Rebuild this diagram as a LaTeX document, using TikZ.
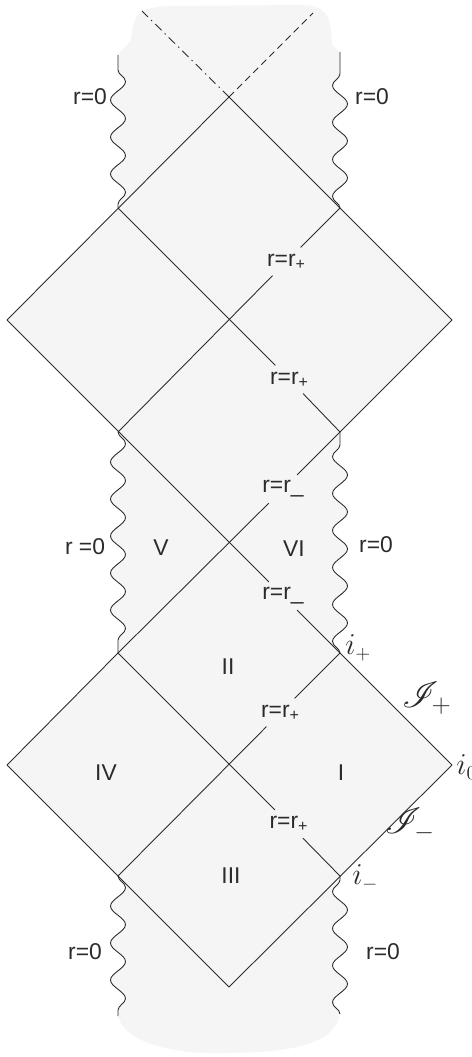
\documentclass[tikz,border=0pt]{standalone}
\usepackage{fontspec}
\setmainfont{Liberation Sans}
\usepackage{mathrsfs}
\usetikzlibrary{decorations.pathmorphing}
\definecolor{bgray}{HTML}{F5F5F5}
\definecolor{ink}{HTML}{2B2B2B}

\begin{document}
\begin{tikzpicture}[x=0.02cm,y=-0.02cm,
  ray/.style={ink,line width=0.5pt},
  wave/.style={decoration={snake,amplitude=0.15cm,segment length=0.74cm}},
  wavedown/.style={decoration={snake,amplitude=0.15cm,segment length=0.74cm,pre=lineto,pre length=0.3cm}},
  waveup/.style={decoration={snake,amplitude=0.15cm,segment length=0.74cm,post=lineto,post length=0.3cm}},
  txt/.style={text=ink,font=\fontsize{13}{15}\selectfont},
  hzn/.style={txt,inner sep=0pt,minimum width=0.8cm,minimum height=0.55cm},
  mth/.style={text=ink,inner sep=0pt,font=\fontsize{16}{19}\selectfont},
  scr/.style={text=ink,inner sep=0pt,font=\fontsize{21}{24}\selectfont}]
  \useasboundingbox (0,0) rectangle (471,1057);
  % vertices of the diamonds
  \coordinate (A) at (229,97);
  \coordinate (L1) at (118,208);  \coordinate (R1) at (340,208);
  \coordinate (LL1) at (7,320);   \coordinate (C1) at (229,320);  \coordinate (RR1) at (452,320);
  \coordinate (L2) at (118,432);  \coordinate (R2) at (340,432);
  \coordinate (C2) at (229,543);
  \coordinate (L3) at (118,653);  \coordinate (R3) at (340,653);
  \coordinate (LL2) at (7,765);   \coordinate (C3) at (229,765);  \coordinate (RR2) at (452,765);
  \coordinate (L4) at (118,876);  \coordinate (R4) at (340,876);
  \coordinate (B) at (229,987);
  % free ends of the singularities and of the dashed lines
  \coordinate (lw0) at (118,55);  \coordinate (rw0) at (340,52);
  \coordinate (lwb) at (118,1016); \coordinate (rwb) at (340,1014);
  \coordinate (tl) at (142,11);   \coordinate (tr) at (313,13);

  % shaded spacetime
  \fill[bgray] (lw0) decorate[wavedown]{-- (L1)} -- (LL1) -- (L2)
    decorate[wave]{-- (L3)} -- (LL2) -- (L4) decorate[wave]{-- (lwb)}
    .. controls (125,1045) and (180,1055) .. (230,1053)
    .. controls (290,1052) and (335,1045) .. (rwb)
    decorate[wave]{-- (R4)} -- (RR2) -- (R3) decorate[wave]{-- (R2)}
    -- (RR1) -- (R1) decorate[waveup]{-- (rw0)}
    -- (332,45) .. controls (331,12) and (325,6) .. (300,5) -- (170,6)
    .. controls (140,8) and (134,10) .. (131,40) -- cycle;

  % singularities r=0
  \draw[ray,decorate,wavedown] (lw0) -- (L1);
  \draw[ray,decorate,wave] (L2) -- (L3);
  \draw[ray,decorate,wave] (L4) -- (lwb);
  \draw[ray,decorate,wave] (rwb) -- (R4);
  \draw[ray,decorate,wave] (R3) -- (R2);
  \draw[ray,decorate,waveup] (R1) -- (rw0);
  \node[txt] (z1) at (90,97) {r=0};
  \node[txt] (z2) at (372,97) {r=0};
  \node[txt] (z3) at (85,547) {r =0};
  \node[txt] (z4) at (376,545) {r=0};
  \node[txt] (z5) at (85,952) {r=0};
  \node[txt] (z6) at (383,952) {r=0};

  % horizons
  \node[hzn] (hA) at (286.5,261.5) {r=r\textsubscript{+}};
  \node[hzn] (hB) at (289.5,379.5) {r=r\textsubscript{+}};
  \node[hzn] (hC) at (283,489) {r=r\_};
  \node[hzn] (hD) at (283,596) {r=r\_};
  \node[hzn] (hE) at (280.5,712.5) {r=r\textsubscript{+}};
  \node[hzn] (hF) at (289,824) {r=r\textsubscript{+}};

  % null lines
  \draw[ray] (A) -- (LL1);
  \draw[ray] (A) -- (RR1);
  \draw[ray] (R1) -- (hA);  \draw[ray] (hA) -- (L2);
  \draw[ray] (L1) -- (hB);  \draw[ray] (hB) -- (R2);
  \draw[ray] (RR1) -- (hC); \draw[ray] (hC) -- (L3);
  \draw[ray] (LL1) -- (hD); \draw[ray] (hD) -- (R3);
  \draw[ray] (R3) -- (hE);  \draw[ray] (hE) -- (L4);
  \draw[ray] (L3) -- (hF);  \draw[ray] (hF) -- (R4);
  \draw[ray] (L3) -- (LL2);
  \draw[ray] (R3) -- (RR2);
  \draw[ray] (LL2) -- (B);
  \draw[ray] (RR2) -- (B);
  \draw[ray,dash pattern=on 5pt off 2.5pt on 0.8pt off 2.5pt] (A) -- (tl);
  \draw[ray,dash pattern=on 4pt off 2.5pt] (A) -- (tr);

  % regions
  \node[txt] (rV) at (161,548) {V};
  \node[txt] (rVI) at (294,549) {VI};
  \node[txt] (rII) at (228,667) {II};
  \node[txt] (rIV) at (106,773) {IV};
  \node[txt] (rI) at (341,773) {I};
  \node[txt] (rIII) at (231,876) {III};

  % infinities
  \node[mth,anchor=west] (ip) at (345,648) {$i_+$};
  \node[mth,anchor=west] (io) at (456,767) {$i_0$};
  \node[mth,anchor=west] (im) at (352,878) {$i_-$};
  \node[scr] (sp) at (427,698) {$\mathscr{I}_+$};
  \node[scr] (sm) at (410,825) {$\mathscr{I}_-$};
\end{tikzpicture}
\end{document}
